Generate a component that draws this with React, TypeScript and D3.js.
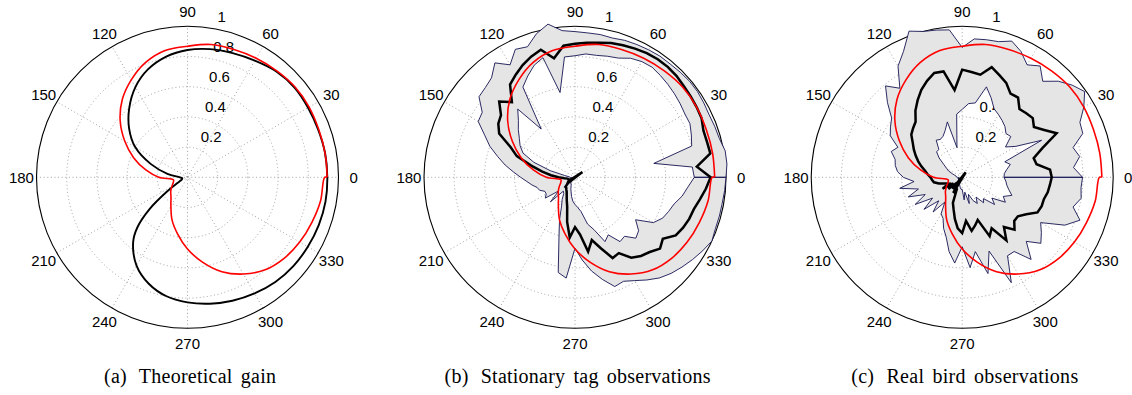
import React from 'react';
import * as d3 from 'd3';

// polar grid
const angleTicks = [0, 30, 60, 90, 120, 150, 180, 210, 240, 270, 300, 330];
const radialTicks = [0.2, 0.4, 0.6, 0.8, 1];
const captionLabels = ['(a)', '(b)', '(c)'];
const captions = ['Theoretical gain', 'Stationary tag observations', 'Real bird observations'];
const captionWidths = [172, 266, 227];

// (a) theoretical gain (black) and fitted model (red), angle in degrees
const theoryAngles = [0, 10, 20, 30, 40, 50, 60, 70, 80, 90, 100, 110, 120, 130, 140, 150, 160, 170, 180, 190, 200, 205, 210, 215, 220, 225, 230, 240, 250, 260, 270, 280, 290, 300, 310, 320, 330, 340, 350];
const theoryGain = [0.926, 0.925, 0.921, 0.922, 0.925, 0.915, 0.892, 0.875, 0.862, 0.843, 0.812, 0.762, 0.69, 0.6, 0.505, 0.4, 0.26, 0.135, 0.05, 0.035, 0.04, 0.05, 0.08, 0.17, 0.33, 0.47, 0.56, 0.675, 0.75, 0.8, 0.828, 0.85, 0.87, 0.888, 0.905, 0.915, 0.92, 0.925, 0.928];

const modelAngles = [0, 10, 20, 30, 40, 50, 60, 70, 80, 90, 100, 110, 120, 130, 140, 150, 160, 170, 180, 190, 200, 210, 220, 230, 240, 250, 260, 270, 280, 290, 300, 310, 320, 330, 340, 350, 360, 360];
const modelGain = [0.925, 0.925, 0.925, 0.93, 0.93, 0.92, 0.91, 0.9, 0.893, 0.868, 0.853, 0.81, 0.745, 0.672, 0.582, 0.48, 0.38, 0.28, 0.19, 0.095, 0.1, 0.12, 0.145, 0.17, 0.22, 0.3, 0.38, 0.475, 0.57, 0.665, 0.74, 0.8, 0.835, 0.858, 0.876, 0.895, 0.908, 0.925];

// (b), (c) observations every 5 degrees from 0 to 355
const sampleAngles = d3.range(0, 360, 5);

const tagMean = [0.898, 0.81, 0.91, 0.905, 0.905, 0.925, 0.93, 0.935, 0.94, 0.95, 0.955, 0.955, 0.95, 0.94, 0.93, 0.92, 0.905, 0.895, 0.885, 0.875, 0.8, 0.875, 0.85, 0.82, 0.785, 0.75, 0.65, 0.71, 0.64, 0.62, 0.58, 0.47, 0.41, 0.3, 0.22, 0.16, 0.11, 0.07, 0.05, 0.045, 0.04, 0.045, 0.05, -0.06, 0.06, 0.09, 0.09, 0.1, 0.11, 0.13, 0.16, 0.2, 0.3, 0.4, 0.33, 0.38, 0.5, 0.43, 0.5, 0.59, 0.58, 0.65, 0.68, 0.7, 0.735, 0.71, 0.77, 0.79, 0.805, 0.815, 0.84, 0.87];
const tagUpper = [1.0, 1.01, 1.01, 0.99, 0.985, 0.98, 0.985, 0.99, 0.99, 0.985, 0.98, 0.98, 0.975, 0.97, 0.965, 0.955, 0.96, 0.96, 0.965, 0.975, 1.03, 0.985, 0.92, 0.935, 0.86, 0.925, 0.86, 0.84, 0.83, 0.75, 0.74, 0.66, 0.6, 0.53, 0.47, 0.41, 0.36, 0.32, 0.29, 0.26, 0.25, 0.22, 0.22, 0.24, 0.14, 0.23, 0.12, 0.13, 0.17, 0.21, 0.3, 0.41, 0.64, 0.67, 0.47, 0.55, 0.63, 0.7, 0.77, 0.76, 0.79, 0.83, 0.87, 0.9, 0.925, 0.95, 0.975, 1.0, 0.99, 0.99, 0.99, 0.995];
const tagLower = [0.79, 0.78, 0.53, 0.8, 0.82, 0.84, 0.84, 0.85, 0.86, 0.87, 0.88, 0.89, 0.885, 0.87, 0.84, 0.83, 0.82, 0.82, 0.805, 0.8, 0.57, 0.82, 0.79, 0.74, 0.69, 0.39, 0.59, 0.53, 0.49, 0.45, 0.42, 0.38, 0.29, 0.17, 0.07, 0.04, 0.03, 0.03, 0.02, 0.03, 0.03, 0.02, 0.03, 0.02, 0.03, 0.03, 0.04, 0.05, 0.05, 0.06, 0.08, 0.1, 0.13, 0.16, 0.18, 0.2, 0.23, 0.32, 0.37, 0.47, 0.44, 0.52, 0.51, 0.57, 0.55, 0.49, 0.6, 0.64, 0.66, 0.68, 0.72, 0.75];

const birdMean = [0.593, 0.584, 0.5, 0.49, 0.565, 0.69, 0.627, 0.58, 0.61, 0.6, 0.59, 0.645, 0.64, 0.69, 0.72, 0.755, 0.69, 0.7, 0.713, 0.58, 0.712, 0.715, 0.68, 0.64, 0.59, 0.54, 0.48, 0.46, 0.44, 0.4, 0.37, 0.34, 0.31, 0.28, 0.25, 0.23, 0.21, 0.2, 0.19, 0.16, 0.12, 0.1, 0.15, 0.07, 0.12, 0.05, 0.1, -0.04, 0.12, 0.08, 0.18, 0.22, 0.28, 0.34, 0.37, 0.29, 0.36, 0.33, 0.3, 0.43, 0.39, 0.51, 0.43, 0.49, 0.45, 0.45, 0.49, 0.55, 0.56, 0.56, 0.575, 0.583];
const birdUpper = [0.797, 0.74, 0.79, 0.76, 0.85, 0.86, 0.93, 0.99, 0.95, 0.9, 0.83, 0.9, 0.86, 0.92, 0.96, 0.93, 0.925, 0.92, 0.86, 0.98, 0.99, 1.0, 1.03, 0.92, 0.85, 0.72, 0.79, 0.7, 0.61, 0.58, 0.55, 0.47, 0.5, 0.46, 0.45, 0.43, 0.39, 0.32, 0.42, 0.3, 0.38, 0.27, 0.36, 0.24, 0.33, 0.22, 0.3, 0.2, 0.28, 0.3, 0.36, 0.41, 0.5, 0.57, 0.46, 0.6, 0.5, 0.66, 0.52, 0.77, 0.6, 0.6, 0.71, 0.6, 0.68, 0.64, 0.6, 0.75, 0.83, 0.76, 0.8, 0.79];
const birdLower = [0.277, 0.28, 0.3, 0.33, 0.3, 0.58, 0.41, 0.35, 0.42, 0.41, 0.44, 0.46, 0.48, 0.5, 0.56, 0.62, 0.5, 0.49, 0.45, 0.42, 0.2, 0.38, 0.33, 0.3, 0.29, 0.3, 0.24, 0.24, 0.2, 0.15, 0.12, 0.1, 0.07, 0.05, 0.04, 0.04, 0.03, 0.03, 0.02, 0.03, 0.02, 0.03, 0.02, 0.03, 0.02, 0.03, 0.02, 0.03, 0.03, 0.04, 0.05, 0.06, 0.07, 0.08, 0.08, 0.15, 0.1, 0.18, 0.12, 0.17, 0.2, 0.16, 0.22, 0.2, 0.28, 0.24, 0.33, 0.3, 0.35, 0.32, 0.3, 0.29];

const W = 1132;
const H = 395;
const R = 151;
const CY = 177.3;
const centers = [187.5, 575, 962.2];

const rScale = d3.scaleLinear().domain([0, 1]).range([0, R]);
const toRad = (deg: number) => Math.PI / 2 - (deg * Math.PI) / 180;

type Pt = [number, number];

const radial = d3.lineRadial<Pt>()
  .angle(d => toRad(d[0]))
  .radius(d => rScale(d[1]));

const zip = (angles: number[], values: number[]): Pt[] => angles.map((a, i) => [a, values[i]]);

const bandPath = (upper: number[], lower: number[]) => {
  const outer = zip([...sampleAngles, 360], [...upper, upper[0]]);
  const inner = zip([360, ...sampleAngles.slice().reverse()], [lower[0], ...lower.slice().reverse()]);
  return radial.curve(d3.curveLinearClosed)([...outer, ...inner]) || '';
};

const gridColor = '#8c8c8c';
const labelFont = '"Liberation Sans", Arial, Helvetica, sans-serif';

const PolarGrid = () => {
  const c82 = Math.cos((82 * Math.PI) / 180);
  const s82 = Math.sin((82 * Math.PI) / 180);
  return (
    <g>
      <circle r={R} fill="white" stroke="none" />
      {radialTicks.slice(0, -1).map(t => (
        <circle key={t} r={rScale(t)} fill="none" stroke={gridColor} strokeWidth={0.8} strokeDasharray="1,2.6" />
      ))}
      {angleTicks.slice(0, 6).map(a => {
        const th = (a * Math.PI) / 180;
        return (
          <line key={a}
            x1={-R * Math.cos(th)} y1={R * Math.sin(th)}
            x2={R * Math.cos(th)} y2={-R * Math.sin(th)}
            stroke={gridColor} strokeWidth={0.8} strokeDasharray="1,2.6" />
        );
      })}
      <circle r={R} fill="none" stroke="black" strokeWidth={1.1} />
      {angleTicks.map(a => {
        const th = (a * Math.PI) / 180;
        return (
          <text key={a} x={1.1 * R * Math.cos(th)} y={-1.1 * R * Math.sin(th)}
            textAnchor="middle" dominantBaseline="central"
            fontFamily={labelFont} fontSize={15}>{a}</text>
        );
      })}
      {radialTicks.map(t => (
        <text key={t} x={rScale(t) * c82 + 9} y={-rScale(t) * s82 - 5.6}
          fontFamily={labelFont} fontSize={15}>{t}</text>
      ))}
    </g>
  );
};

const Panel = ({ index, children }: { index: number; children?: React.ReactNode }) => (
  <g transform={`translate(${centers[index]},${CY})`}>
    <PolarGrid />
    {children}
    <text x={2.5} y={383 - CY} textAnchor="middle"
      fontFamily='"Liberation Serif", "Times New Roman", serif' fontSize={20} wordSpacing={3}
      textLength={captionWidths[index]} lengthAdjust="spacing">
      <tspan>{captionLabels[index]}</tspan>
      <tspan dx={4}> {captions[index]}</tspan>
    </text>
  </g>
);

const ModelLine = () => (
  <path d={radial.curve(d3.curveCatmullRom.alpha(0.5))(zip(modelAngles, modelGain)) || ''}
    fill="none" stroke="#ff0000" strokeWidth={1.6} />
);

const ObsLayers = ({ mean, upper, lower }: { mean: number[]; upper: number[]; lower: number[] }) => (
  <g>
    <path d={bandPath(upper, lower)} fill="#e5e5e5" stroke="#141452" strokeWidth={0.9} strokeLinejoin="miter" />
    <path d={radial.curve(d3.curveLinearClosed)(zip(sampleAngles, mean)) || ''}
      fill="none" stroke="black" strokeWidth={2.5} strokeLinejoin="miter" />
    <ModelLine />
  </g>
);

export default function App() {
  return (
    <div style={{ position: 'absolute', left: 0, top: 0, width: W, height: H, background: 'white' }}>
      <svg width={W} height={H} viewBox={`0 0 ${W} ${H}`}>
        <rect width={W} height={H} fill="white" />
        <Panel index={0}>
          <path d={radial.curve(d3.curveCatmullRomClosed.alpha(0.5))(zip(theoryAngles, theoryGain)) || ''}
            fill="none" stroke="black" strokeWidth={1.9} />
          <ModelLine />
        </Panel>
        <Panel index={1}>
          <ObsLayers mean={tagMean} upper={tagUpper} lower={tagLower} />
        </Panel>
        <Panel index={2}>
          <ObsLayers mean={birdMean} upper={birdUpper} lower={birdLower} />
        </Panel>
      </svg>
    </div>
  );
}
